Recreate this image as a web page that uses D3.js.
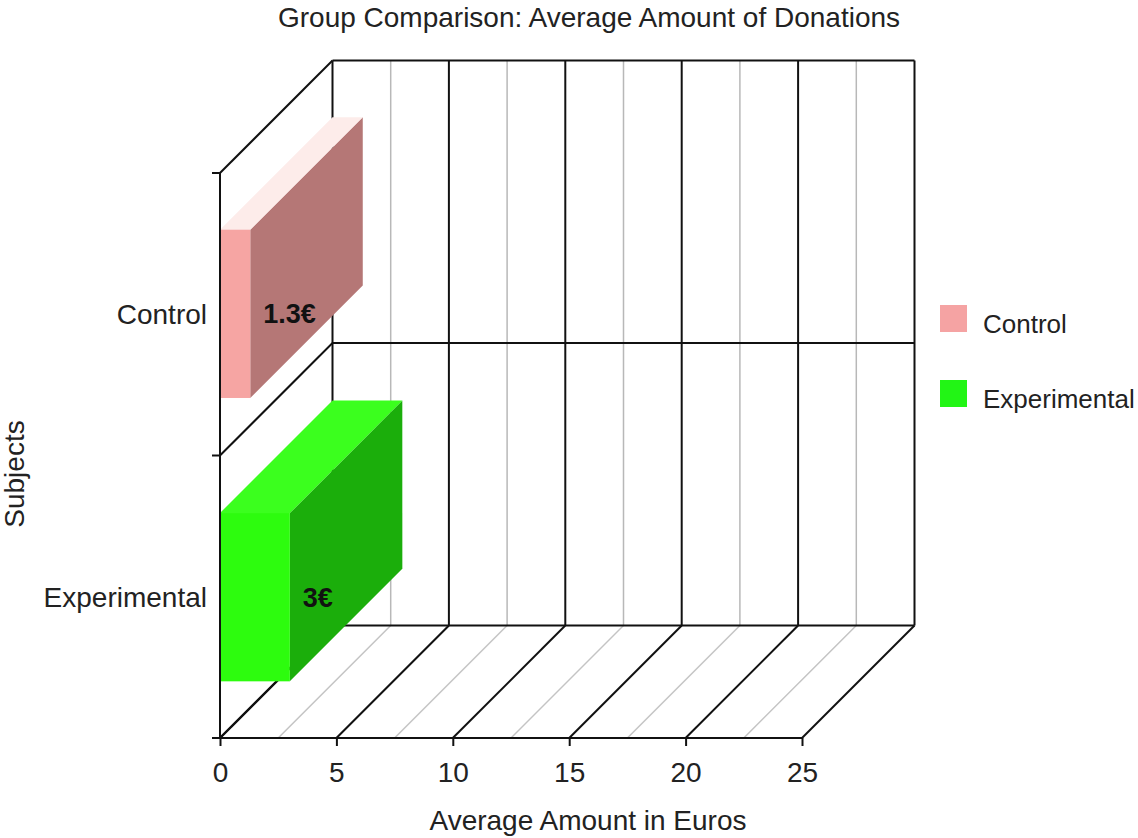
<!DOCTYPE html>
<html>
<head>
<meta charset="utf-8">
<script src="https://cdn.jsdelivr.net/npm/d3@7"></script>
<style>
  html, body { margin: 0; padding: 0; background: #fff; }
  svg { display: block; font-family: "Liberation Sans", Arial, sans-serif; }
</style>
</head>
<body>
<svg id="chart" width="1138" height="838"></svg>
<script>
// ---- data ----
const categories = ["Control", "Experimental"];
const values = [1.3, 3];
const valueLabels = ["1.3€", "3€"];
const xTicks = [0, 5, 10, 15, 20, 25];
const xMinorTicks = [2.5, 7.5, 12.5, 17.5, 22.5];
const frontColors = ["#f6a5a3", "#2dfc0e"];
const sideColors = ["#b57776", "#1bae0b"];
const topColors = ["#fdecea", "#3bff1e"];
const legendColors = ["#f5a3a3", "#22f515"];

// ---- layout ----
const svg = d3.select("#chart");
const pLeft = 220, pRight = 802, pTop = 173, pBottom = 738;
const DX = 112.5, DY = -112.5;

const x = d3.scaleLinear().domain([0, 25]).range([pLeft, pRight]);
const yBand = d3.scaleBand().domain(categories).range([pTop, pBottom]).paddingInner(0.406).paddingOuter(0.2);
const yGrid = d3.scaleBand().domain(categories).range([pTop, pBottom]).padding(0);

const g = svg.append("g");

// back wall
g.append("rect").attr("x", pLeft + DX).attr("y", pTop + DY)
  .attr("width", pRight - pLeft).attr("height", pBottom - pTop).attr("fill", "#fff");

// back wall minor vertical gridlines
g.selectAll(".bminor").data(xMinorTicks).join("line")
  .attr("x1", d => x(d) + DX).attr("x2", d => x(d) + DX)
  .attr("y1", pTop + DY).attr("y2", pBottom + DY)
  .attr("stroke", "#b8b8b8").attr("stroke-width", 1.5);
// floor minor diagonals
g.selectAll(".fminor").data(xMinorTicks).join("line")
  .attr("x1", d => x(d)).attr("x2", d => x(d) + DX)
  .attr("y1", pBottom).attr("y2", pBottom + DY)
  .attr("stroke", "#c4c4c4").attr("stroke-width", 1.5);

// back wall major verticals
g.selectAll(".bmajor").data(xTicks).join("line")
  .attr("x1", d => x(d) + DX).attr("x2", d => x(d) + DX)
  .attr("y1", pTop + DY).attr("y2", pBottom + DY)
  .attr("stroke", "#111").attr("stroke-width", 2);
// floor major diagonals
g.selectAll(".fmajor").data(xTicks).join("line")
  .attr("x1", d => x(d)).attr("x2", d => x(d) + DX)
  .attr("y1", pBottom).attr("y2", pBottom + DY)
  .attr("stroke", "#111").attr("stroke-width", 2);

// horizontal category boundaries: back wall + left wall diagonals
const bounds = [yGrid(categories[0]), yGrid(categories[1]), pBottom];
g.selectAll(".bh").data(bounds).join("line")
  .attr("x1", pLeft + DX).attr("x2", pRight + DX)
  .attr("y1", d => d + DY).attr("y2", d => d + DY)
  .attr("stroke", "#111").attr("stroke-width", 2);
g.selectAll(".lw").data(bounds).join("line")
  .attr("x1", pLeft).attr("x2", pLeft + DX)
  .attr("y1", d => d).attr("y2", d => d + DY)
  .attr("stroke", "#111").attr("stroke-width", 2);

// bars (3D)
const bars = g.selectAll(".bar").data(categories).join("g");
bars.each(function (c, i) {
  const b = d3.select(this);
  const x0 = x(0), x1 = x(values[i]);
  const y0 = yBand(c), y1 = y0 + yBand.bandwidth();
  // side face
  b.append("path").attr("fill", sideColors[i])
    .attr("d", `M${x1},${y0}L${x1 + DX},${y0 + DY}L${x1 + DX},${y1 + DY}L${x1},${y1}Z`);
  // top face
  b.append("path").attr("fill", topColors[i])
    .attr("d", `M${x0},${y0}L${x0 + DX},${y0 + DY}L${x1 + DX},${y0 + DY}L${x1},${y0}Z`);
  // front face
  b.append("rect").attr("x", x0).attr("y", y0).attr("width", x1 - x0).attr("height", y1 - y0)
    .attr("fill", frontColors[i]);
  // label
  b.append("text").attr("x", x1 + 13).attr("y", (y0 + y1) / 2).attr("dy", "0.35em")
    .attr("font-size", 27).attr("font-weight", "bold").attr("fill", "#111")
    .text(valueLabels[i]);
});

// front axes
const xAxis = d3.axisBottom(x).tickValues(xTicks).tickSize(8).tickPadding(16);
const ax = g.append("g").attr("transform", `translate(0,${pBottom})`).call(xAxis);
ax.select(".domain").attr("stroke", "#111").attr("stroke-width", 2).attr("d", `M${pLeft - 8},0H${pRight}`);
ax.selectAll(".tick line").attr("stroke", "#111").attr("stroke-width", 2);
ax.selectAll(".tick text").attr("font-size", 28).attr("fill", "#222")
  .attr("font-family", "Liberation Sans, Arial, sans-serif");

const yAxis = d3.axisLeft(yGrid).tickSize(0).tickPadding(13);
const ay = g.append("g").attr("transform", `translate(${pLeft},0)`).call(yAxis);
ay.select(".domain").attr("stroke", "#111").attr("stroke-width", 2).attr("d", `M0,${pTop}V${pBottom}`);
ay.selectAll(".tick text").attr("font-size", 28).attr("fill", "#222")
  .attr("font-family", "Liberation Sans, Arial, sans-serif").attr("dy", "0.36em");
// boundary ticks on left axis
g.selectAll(".ltick").data(bounds).join("line")
  .attr("x1", pLeft - 8).attr("x2", pLeft).attr("y1", d => d).attr("y2", d => d)
  .attr("stroke", "#111").attr("stroke-width", 2);

// titles
svg.append("text").attr("x", 589).attr("y", 27).attr("text-anchor", "middle")
  .attr("font-size", 28).attr("fill", "#222").text("Group Comparison: Average Amount of Donations");
svg.append("text").attr("x", 588).attr("y", 830).attr("text-anchor", "middle")
  .attr("font-size", 28).attr("fill", "#222").text("Average Amount in Euros");
svg.append("text").attr("transform", "translate(24,474) rotate(-90)").attr("text-anchor", "middle")
  .attr("font-size", 28).attr("fill", "#222").text("Subjects");

// legend
const legend = svg.append("g");
categories.forEach((c, i) => {
  const ly = 305 + i * 75;
  legend.append("rect").attr("x", 940).attr("y", ly).attr("width", 27).attr("height", 27)
    .attr("fill", legendColors[i]);
  legend.append("text").attr("x", 983).attr("y", ly + 28).attr("font-size", 26)
    .attr("fill", "#222").text(c);
});
</script>
</body>
</html>
